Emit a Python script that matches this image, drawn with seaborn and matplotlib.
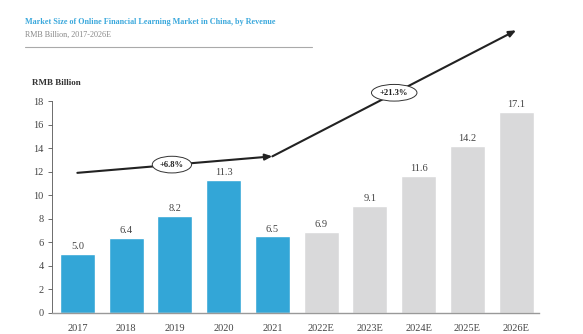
import matplotlib
matplotlib.use("Agg")
import matplotlib.pyplot as plt
import seaborn as sns
import pandas as pd
from matplotlib.lines import Line2D

years = ["2017", "2018", "2019", "2020", "2021", "2022E", "2023E", "2024E", "2025E", "2026E"]
values = [5.0, 6.4, 8.2, 11.3, 6.5, 6.9, 9.1, 11.6, 14.2, 17.1]
bar_colors = ["#33A6D7"] * 5 + ["#D9D9DA"] * 5
trend_x = [0, 4, 9]
trend_y = [11.9, 13.3, 24.0]
cagr_labels = ["+6.8%", "+21.3%"]
cagr_pos = [(1.94, 12.6), (6.5, 18.7)]

title = "Market Size of Online Financial Learning Market in China, by Revenue"
subtitle = "RMB Billion, 2017-2026E"
unit = "RMB Billion"

sns.set_theme(style="white")
plt.rcParams["font.family"] = ["Liberation Serif", "DejaVu Serif"]

fig = plt.figure(figsize=(5.83, 3.34), dpi=100)
W, H = 583, 334
ax = fig.add_axes([52 / W, 1 - 313 / H, (539 - 52) / W, (313 - 101) / H])

df = pd.DataFrame({"year": years, "value": values})
sns.barplot(data=df, x="year", y="value", hue="year", palette=bar_colors,
            legend=False, width=0.72, ax=ax, saturation=1)

for i, v in enumerate(values):
    ax.text(i, v + 0.25, f"{v:.1f}", ha="center", va="bottom", fontsize=7.5, color="#444444")

ax.set_ylim(0, 18)
ax.set_xlim(-0.52, 9.47)
ax.set_yticks(range(0, 19, 2))
ax.set_xlabel("")
ax.set_ylabel("")
ax.tick_params(axis="y", which="both", left=True, length=3, width=0.6, color="#555555",
               labelsize=7.5, labelcolor="#444444", pad=3)
ax.tick_params(axis="x", bottom=False, labelsize=7.5, labelcolor="#444444", pad=2)
sns.despine(ax=ax)
ax.spines["left"].set_color("#555555")
ax.spines["left"].set_linewidth(0.6)
ax.spines["bottom"].set_color("#999999")
ax.spines["bottom"].set_linewidth(1.0)

# trend arrows
for k in range(len(trend_x) - 1):
    ax.annotate("", xy=(trend_x[k + 1], trend_y[k + 1]), xytext=(trend_x[k], trend_y[k]),
                arrowprops=dict(arrowstyle="-|>,head_length=0.35,head_width=0.15",
                                color="#222222", lw=1.5, shrinkA=0, shrinkB=0),
                annotation_clip=False)

for lab, (px, py) in zip(cagr_labels, cagr_pos):
    ax.text(px, py, lab, ha="center", va="center", fontsize=6.2, fontweight="bold",
            color="#222222", clip_on=False,
            bbox=dict(boxstyle="ellipse,pad=0.22", fc="white", ec="#333333", lw=0.7))

fig.text(25 / W, 1 - 22 / H, title, fontsize=5.9, fontweight="bold", color="#3AA8DC",
         ha="left", va="center")
fig.text(25 / W, 1 - 35 / H, subtitle, fontsize=5.9, color="#888888", ha="left", va="center")
fig.add_artist(Line2D([25 / W, 312 / W], [1 - 47 / H, 1 - 47 / H], color="#AAAAAA", lw=0.8))
fig.text(32 / W, 1 - 83 / H, unit, fontsize=6.5, fontweight="bold", color="#333333",
         ha="left", va="center")

fig.savefig("out.png", dpi=100)
